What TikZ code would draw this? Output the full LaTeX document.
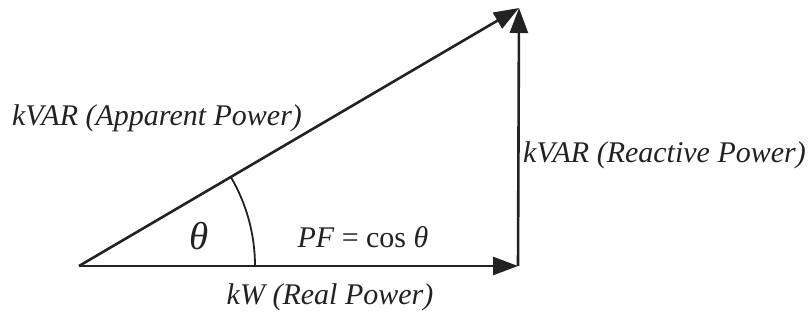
\documentclass[tikz,border=0pt]{standalone}
\usepackage{fontspec}
\setmainfont{Liberation Serif}
\usetikzlibrary{arrows.meta,calc}
\definecolor{ink}{HTML}{222222}
\tikzset{
  vec/.style={line width=2.6pt, draw=ink, -{Triangle[length=25pt,width=18pt]}},
  thin/.style={line width=1.8pt, draw=ink},
  lbl/.style={text=ink, inner sep=0pt, font=\fontsize{30}{34}\selectfont\itshape}
}
\begin{document}
\begin{tikzpicture}[x=1pt,y=1pt]
\useasboundingbox (0,0) rectangle (810,328);
\coordinate (O) at (79,62);
\coordinate (A) at (518,62);
\coordinate (B) at (519,320);
\draw[vec] (O) -- (A);
\draw[vec] (A) -- (B);
\draw[vec] (O) -- (B);
\draw[thin] ($(O)+(176,0)$) arc[start angle=0, end angle=30.45, radius=176];
\node[lbl] (app) at (157,210) {kVAR (Apparent Power)};
\node[lbl, anchor=west] (rea) at (523,173) {kVAR (Reactive Power)};
\node[lbl] (real) at (330,31) {kW (Real Power)};
\node[lbl, font=\fontsize{39}{42}\selectfont\itshape] (th) at (199,92) {θ};
\node[lbl] (pf) at (363,91) {PF {\upshape = cos} θ};
\end{tikzpicture}
\end{document}
